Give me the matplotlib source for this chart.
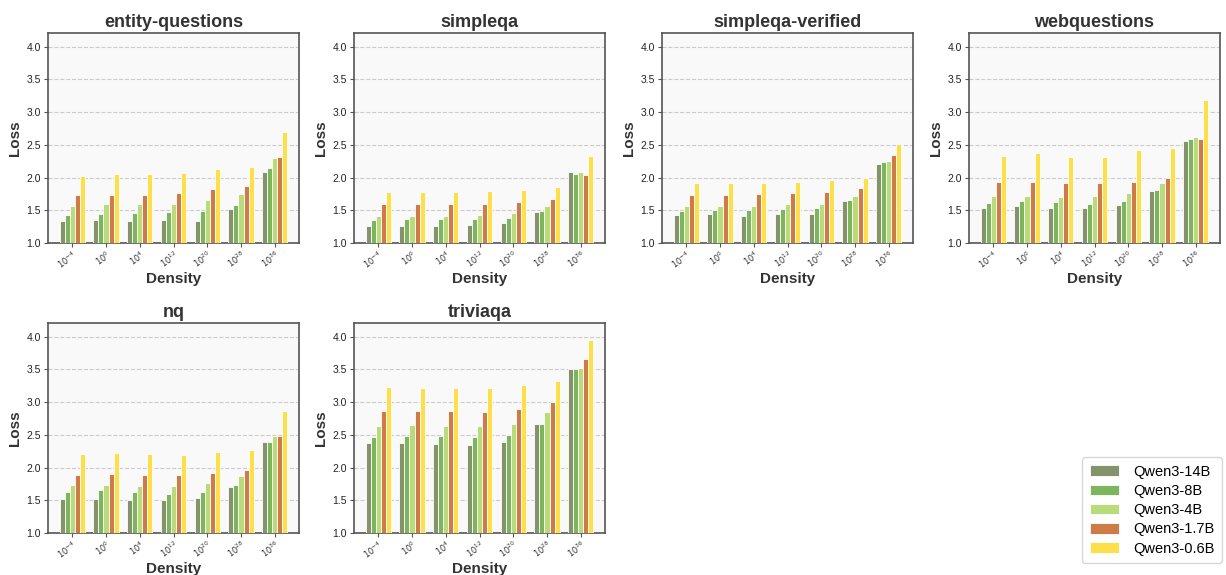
import matplotlib
matplotlib.use("Agg")
import matplotlib.pyplot as plt
import numpy as np

plt.rcParams['font.family'] = ['Liberation Sans', 'DejaVu Sans']

datasets = ["entity-questions", "simpleqa", "simpleqa-verified", "webquestions", "nq", "triviaqa"]
density_labels = [r"$10^{-4}$", r"$10^{0}$", r"$10^{4}$", r"$10^{12}$", r"$10^{20}$", r"$10^{28}$", r"$10^{36}$"]
models = ["Qwen3-14B", "Qwen3-8B", "Qwen3-4B", "Qwen3-1.7B", "Qwen3-0.6B"]
colors = ["#84936a", "#7cb55c", "#badb7a", "#cd7c48", "#fddf4c"]

entity_questions = [
    [1.34, 1.35, 1.34, 1.35, 1.34, 1.52, 2.09],
    [1.43, 1.44, 1.46, 1.47, 1.49, 1.58, 2.14],
    [1.57, 1.59, 1.59, 1.60, 1.66, 1.75, 2.30],
    [1.73, 1.74, 1.74, 1.77, 1.82, 1.87, 2.31],
    [2.03, 2.05, 2.05, 2.07, 2.13, 2.16, 2.69],
]
simpleqa = [
    [1.26, 1.26, 1.26, 1.27, 1.30, 1.47, 2.08],
    [1.35, 1.36, 1.37, 1.36, 1.38, 1.49, 2.06],
    [1.41, 1.41, 1.42, 1.43, 1.46, 1.57, 2.08],
    [1.59, 1.59, 1.59, 1.60, 1.62, 1.68, 2.04],
    [1.78, 1.78, 1.78, 1.79, 1.81, 1.85, 2.33],
]
simpleqa_verified = [
    [1.43, 1.44, 1.41, 1.44, 1.45, 1.64, 2.21],
    [1.49, 1.50, 1.51, 1.52, 1.53, 1.65, 2.24],
    [1.56, 1.57, 1.56, 1.59, 1.60, 1.72, 2.25],
    [1.74, 1.73, 1.75, 1.76, 1.78, 1.84, 2.35],
    [1.92, 1.92, 1.92, 1.94, 1.96, 1.99, 2.51],
]
webquestions = [
    [1.54, 1.56, 1.54, 1.54, 1.58, 1.80, 2.56],
    [1.61, 1.64, 1.62, 1.59, 1.64, 1.81, 2.59],
    [1.72, 1.72, 1.71, 1.72, 1.77, 1.91, 2.62],
    [1.94, 1.94, 1.92, 1.92, 1.94, 2.00, 2.59],
    [2.33, 2.37, 2.31, 2.32, 2.42, 2.45, 3.19],
]
nq = [
    [1.52, 1.52, 1.51, 1.50, 1.53, 1.71, 2.39],
    [1.62, 1.65, 1.62, 1.60, 1.63, 1.73, 2.39],
    [1.73, 1.74, 1.72, 1.72, 1.76, 1.87, 2.48],
    [1.89, 1.90, 1.88, 1.88, 1.91, 1.96, 2.49],
    [2.21, 2.23, 2.20, 2.19, 2.24, 2.27, 2.86],
]
triviaqa = [
    [2.37, 2.37, 2.36, 2.35, 2.39, 2.66, 3.50],
    [2.47, 2.48, 2.48, 2.46, 2.50, 2.67, 3.51],
    [2.64, 2.65, 2.64, 2.63, 2.66, 2.85, 3.52],
    [2.87, 2.87, 2.86, 2.85, 2.90, 3.01, 3.66],
    [3.23, 3.22, 3.22, 3.21, 3.26, 3.32, 3.95],
]
all_values = [entity_questions, simpleqa, simpleqa_verified, webquestions, nq, triviaqa]
yticks = [1.0, 1.5, 2.0, 2.5, 3.0, 3.5, 4.0]

W, H = 1226, 575
fig = plt.figure(figsize=(W / 100, H / 100), dpi=100)
fig.patch.set_facecolor("white")

col_left = [48, 354, 662, 969]
row_top = [33, 323]
aw, ah = 251, 210

x = np.arange(len(density_labels))
bw = 0.15
handles = []
for i, (name, vals) in enumerate(zip(datasets, all_values)):
    r, c = divmod(i, 4)
    ax = fig.add_axes([col_left[c] / W, 1 - (row_top[r] + ah) / H, aw / W, ah / H])
    ax.set_facecolor("#f9f9f9")
    for m in range(len(models)):
        b = ax.bar(x + (m - 2) * bw, vals[m], width=bw, color=colors[m],
                   edgecolor="white", linewidth=0.6, label=models[m], zorder=3)
        if i == 0:
            handles.append(b)
    ax.set_ylim(1.0, 4.21)
    ax.set_xlim(-0.72, 6.72)
    ax.set_yticks(yticks)
    ax.set_yticklabels([f"{v:.1f}" for v in yticks], fontsize=7.5, color="#222222")
    ax.set_xticks(x)
    ax.set_xticklabels(density_labels, rotation=35, ha="right", fontsize=6, color="#333333",
                       rotation_mode="anchor")
    ax.tick_params(axis="x", length=3, width=0.8, color="#555555", pad=1)
    ax.tick_params(axis="y", length=3, width=0.8, color="#555555", pad=2)
    ax.grid(axis="y", linestyle="--", color="#cccccc", linewidth=0.8, zorder=0)
    ax.set_axisbelow(True)
    for s in ax.spines.values():
        s.set_color("#555555")
        s.set_linewidth(1.2)
    ax.set_title(name, fontsize=13, fontweight="bold", color="#333333", pad=4)
    ax.set_xlabel("Density", fontsize=11, fontweight="bold", color="#333333", labelpad=1)
    ax.set_ylabel("Loss", fontsize=11, fontweight="bold", color="#333333", labelpad=3)

leg = fig.legend(handles, models, loc="lower right", bbox_to_anchor=(1222 / W, 1 - 563 / H),
                 fontsize=10.5, frameon=True, handlelength=2.0, handleheight=0.75,
                 handletextpad=1.0, borderpad=0.5, labelspacing=0.36, borderaxespad=0,
                 fancybox=True)
leg.get_frame().set_edgecolor("#cccccc")

fig.savefig("out.png", dpi=100)
